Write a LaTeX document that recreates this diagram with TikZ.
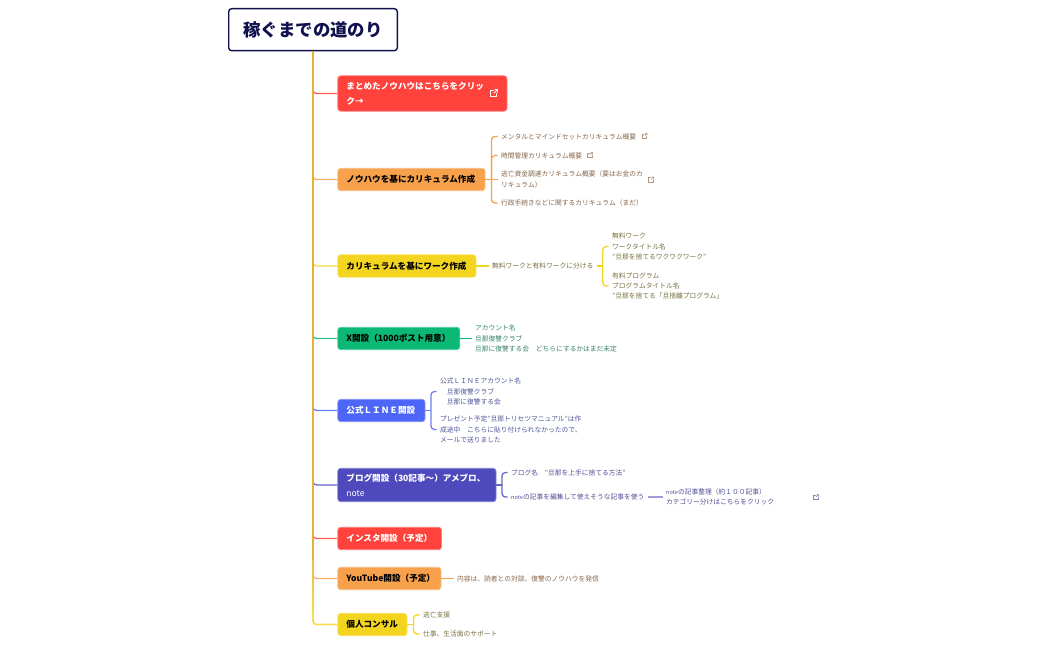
\documentclass[tikz,border=0pt]{standalone}
\usepackage{fontspec}
\setmainfont{Noto Sans CJK JP}
\usetikzlibrary{calc}
\definecolor{cnavy}{HTML}{10104F}
\definecolor{cgold}{HTML}{E6B235}
\definecolor{cred}{HTML}{FF433C}
\definecolor{corange}{HTML}{F8A14D}
\definecolor{cyel}{HTML}{F3D51F}
\definecolor{cgreen}{HTML}{0CB876}
\definecolor{cblue}{HTML}{4D66F7}
\definecolor{cind}{HTML}{4E49BD}
\definecolor{torange}{HTML}{86654A}
\definecolor{tyel}{HTML}{777040}
\definecolor{tgreen}{HTML}{38836A}
\definecolor{tblue}{HTML}{4F5698}
\definecolor{tind}{HTML}{514F96}
\newcommand{\smallnote}{{\fontsize{5.6}{7}\selectfont note}}
\tikzset{
  rootbox/.style={draw=cnavy,fill=white,line width=1.4pt,rounded corners=3pt,text=cnavy,font=\fontsize{17.4}{20}\selectfont\bfseries,minimum width=168.6pt,minimum height=42pt,anchor=north west,inner sep=0pt},
  mbox/.style={anchor=west,rounded corners=3pt,line width=.8pt,inner xsep=8.6pt,inner ysep=0pt,minimum height=22.4pt,align=left,font=\fontsize{8.6}{15}\selectfont\bfseries},
  sub/.style={anchor=west,inner xsep=3.5pt,inner ysep=0pt,align=left,font=\fontsize{6.75}{10.4}\selectfont},
  br/.style={line width=1.3pt,rounded corners=3.5pt},
  tk/.style={line width=2pt},
  extlink/.pic={
    \draw[line cap=round,line join=round] (-.5,-1.8) -- (-2.3,-1.8) -- (-2.3,2.3) -- (1.8,2.3) -- (1.8,.5);
    \draw[line cap=round,line join=round] (0,0) -- (2.5,-2.5) (.5,-2.5) -- (2.5,-2.5) -- (2.5,-.5);
  }
}
\begin{document}
\begin{tikzpicture}[x=1pt,y=-1pt]
\fill[white] (0,0) rectangle (1050,650);
\useasboundingbox (0,0) rectangle (1050,650);

\node[rootbox] (root) at (228,8) {稼ぐまでの道のり};

\node[mbox,fill=cred,draw=cred!70!white,text=white,text width=152pt,minimum height=35.4pt] (b1) at (337.4,93.5) {まとめたノウハウはこちらをクリッ\\ク→};
\node[mbox,fill=corange,draw=corange!70!white,text=black,text width=130pt] (b2) at (337.4,179.5) {ノウハウを基にカリキュラム作成};
\node[mbox,fill=cyel,draw=cyel!70!white,text=black,text width=121pt] (b3) at (337.4,266) {カリキュラムを基にワーク作成};
\node[mbox,fill=cgreen,draw=cgreen!70!white,text=black,text width=104.8pt] (b4) at (337.4,338.5) {X開設（1000ポスト用意）};
\node[mbox,fill=cblue,draw=cblue!70!white,text=white,text width=70pt] (b5) at (337.4,410.5) {公式ＬＩＮＥ開設};
\node[mbox,fill=cind,draw=cind!70!white,text=white,text width=141pt,minimum height=33.4pt] (b6) at (337.4,485) {ブログ開設（30記事～）アメブロ、\\{\mdseries note}};
\node[mbox,fill=cred,draw=cred!70!white,text=white,text width=86.5pt] (b7) at (337.4,538.5) {インスタ開設（予定）};
\node[mbox,fill=corange,draw=corange!70!white,text=black,text width=86pt] (b8) at (337.4,578.5) {YouTube開設（予定）};
\node[mbox,fill=cyel,draw=cyel!70!white,text=black,text width=52pt] (b9) at (337.4,624.5) {個人コンサル};

% sub texts
\begin{scope}[text=torange]
\node[sub] (o1) at (497.5,136.5) {メンタルとマインドセットカリキュラム概要};
\node[sub] (o2) at (497.5,155.5) {時間管理カリキュラム概要};
\node[sub] (o3) at (497.5,179.5) {逃亡資金調達カリキュラム概要（要はお金のカ\\リキュラム）};
\node[sub] (o4) at (497.5,203) {行政手続きなどに関するカリキュラム（まだ）};
\node[sub] (o5) at (453.5,578.5) {内容は、読者との対談、復讐のノウハウを発信};
\end{scope}
\begin{scope}[text=tyel]
\node[sub] (y0) at (488.5,266) {無料ワークと有料ワークに分ける};
\node[sub] (y1) at (608.5,246.5) {無料ワーク\\ワークタイトル名\\"旦那を捨てるワクワクワーク"};
\node[sub] (y2) at (608.5,286) {有料プログラム\\プログラムタイトル名\\"旦那を捨てる「旦捨離プログラム」};
\node[sub] (y3) at (419.5,615) {逃亡支援};
\node[sub] (y4) at (419.5,634) {仕事、生活面のサポート};
\end{scope}
\node[sub,text=tgreen] (g1) at (471.5,338.5) {アカウント名\\旦那復讐クラブ\\旦那に復讐する会　どちらにするかはまだ未定};
\begin{scope}[text=tblue]
\node[sub] (u1) at (436.5,391.5) {公式ＬＩＮＥアカウント名\\　旦那復讐クラブ\\　旦那に復讐する会};
\node[sub] (u2) at (436.5,429.5) {プレゼント予定"旦那トリセツマニュアル"は作\\成途中　こちらに貼り付けられなかったので、\\メールで送りました};
\end{scope}
\begin{scope}[text=tind]
\node[sub] (i1) at (507.5,472.5) {ブログ名　"旦那を上手に捨てる方法"};
\node[sub] (i2) at (507.5,497) {\smallnote の記事を編集して使えそうな記事を使う};
\node[sub] (i3) at (662.5,497) {\smallnote の記事整理（約１００記事）\\カテゴリー分けはこちらをクリック};
\end{scope}

% branches: coordinates on the trunk, just above each branch
\coordinate (trunktop) at (root.south -| 313,0);
\foreach \nm/\col in {b1/cred,b2/corange,b3/cyel,b4/cgreen,b5/cblue,b6/cind,b7/cred,b8/corange}{
  \draw[br,\col!85!white] ($(\nm.west -| trunktop)+(0,-8)$) |- (\nm.west);
}

% sub connectors
\coordinate (mo) at ($(b2.east)!.5!(o3.west)$);
\draw[br,corange] (b2.east) -- (o3.west);
\draw[br,corange] (mo) |- (o1.west);
\draw[br,corange] (mo) |- (o2.west);
\draw[br,corange] (mo) |- (o4.west);
\draw[br,corange] (b8.east) -- (o5.west);

\draw[br,cyel] (b3.east) -- (y0.west);
\coordinate (my) at ($(y0.east)!.5!(y0.east -| y1.west)$);
\draw[br,cyel] (y0.east) -- (my);
\draw[br,cyel] (my) |- (y1.west);
\draw[br,cyel] (my) |- (y2.west);

\draw[br,cgreen] (b4.east) -- (g1.west);

\coordinate (mu) at ($(b5.east)!.5!(b5.east -| u1.west)$);
\draw[br,cblue!85!white] (b5.east) -- (mu);
\draw[br,cblue!85!white] (mu) |- (u1.west);
\draw[br,cblue!85!white] (mu) |- (u2.west);

\coordinate (mi) at ($(b6.east)!.5!(b6.east -| i1.west)$);
\draw[br,cind!85!white] (b6.east) -- (mi);
\draw[br,cind!85!white] (mi) |- (i1.west);
\draw[br,cind!85!white] (mi) |- (i2.west);
\draw[br,cind!55!white] (i2.east) -- (i3.west);

\coordinate (mc) at ($(b9.east)!.5!(b9.east -| y3.west)$);
\draw[br,cyel] (b9.east) -- (mc);
\draw[br,cyel] (mc) |- (y3.west);
\draw[br,cyel] (mc) |- (y4.west);

% trunk: gold at the top, fading to yellow in short steps
\coordinate (tkA) at (trunktop |- 0,560);
\coordinate (tkB) at (trunktop |- 0,612);
\draw[tk,cgold] (trunktop) -- (tkA);
\foreach \k in {0,...,12}{
  \pgfmathsetmacro{\mixv}{100-\k*8}
  \draw[tk,line cap=butt,cgold!\mixv!cyel!85!white] ($(tkA)!\k/13!(tkB)$) -- ($(tkA)!\k/13+1/13!(tkB)$);
}
\draw[br,cyel!75!white,line width=1.8pt] (tkB) |- (b9.west);

% link icons
\pic[color=white,scale=1.4,line width=.9pt] at (494,93) {extlink};
\pic[color=torange!70!white,line width=.5pt] at (644.5,136) {extlink};
\pic[color=torange!70!white,line width=.5pt] at (590,155) {extlink};
\pic[color=torange!70!white,line width=.5pt] at (651,179.5) {extlink};
\pic[color=tind!70!white,line width=.5pt] at (816,497) {extlink};
\end{tikzpicture}
\end{document}
